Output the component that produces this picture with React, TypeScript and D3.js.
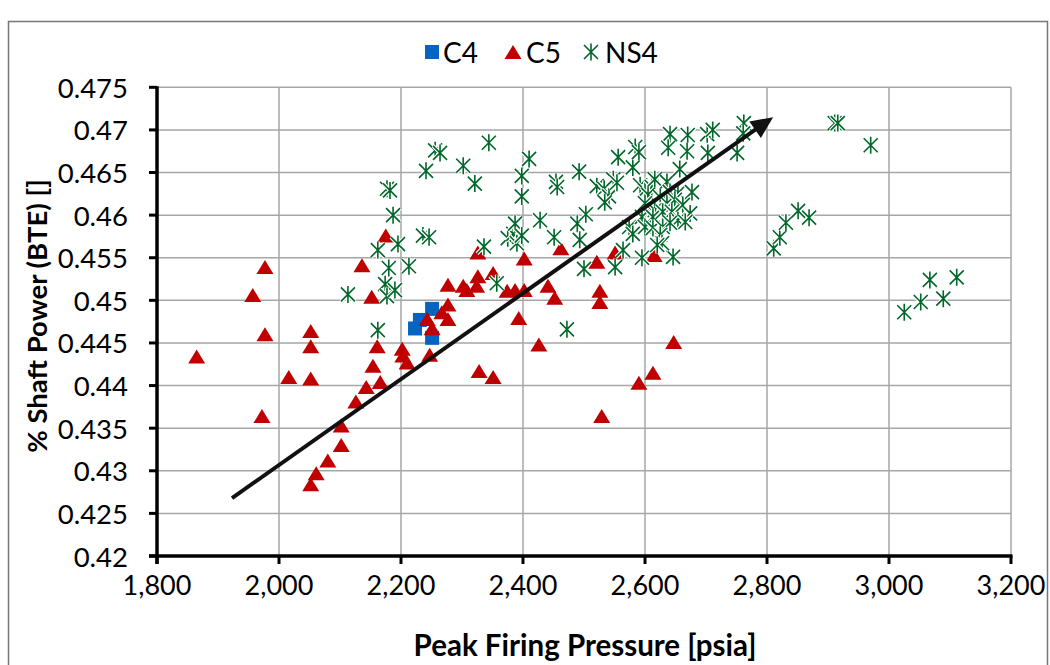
import React from 'react';
import * as d3 from 'd3';

// ---- data ----
const xTicks = [1800, 2000, 2200, 2400, 2600, 2800, 3000, 3200];
const yTicks = [0.42, 0.425, 0.43, 0.435, 0.44, 0.445, 0.45, 0.455, 0.46, 0.465, 0.47, 0.475];
const seriesNames = ['C4', 'C5', 'NS4'];

const c4X = [2223, 2231, 2251, 2251];
const c4Y = [0.4467, 0.4477, 0.449, 0.4456];

const c5X = [1865, 1957, 1977, 1977, 1972, 2016, 2052, 2052, 2052, 2052, 2061, 2080, 2102, 2102, 2126, 2143, 2166, 2154, 2161, 2136,
  2152, 2202, 2203, 2210, 2175, 2247, 2243, 2251, 2267, 2277, 2277, 2277, 2302, 2308, 2324, 2326, 2326, 2351, 2374, 2387,
  2402, 2402, 2393, 2426, 2441, 2452, 2462, 2521, 2526, 2526, 2551, 2615, 2647, 2613, 2590, 2529, 2328, 2351];
const c5Y = [0.4433, 0.4505, 0.4538, 0.4459, 0.4363, 0.4409, 0.4463, 0.4445, 0.4407, 0.4283, 0.4296, 0.4311, 0.4329, 0.4352, 0.438, 0.4397, 0.4403, 0.4422, 0.4445, 0.454,
  0.4503, 0.4442, 0.4434, 0.4426, 0.4575, 0.4435, 0.4477, 0.4466, 0.4485, 0.4494, 0.4477, 0.4517, 0.4516, 0.4511, 0.4516, 0.4527, 0.4555, 0.4531, 0.451, 0.4511,
  0.4511, 0.4548, 0.4478, 0.4447, 0.4516, 0.4502, 0.456, 0.4544, 0.451, 0.4497, 0.4555, 0.4552, 0.445, 0.4414, 0.4402, 0.4363, 0.4416, 0.4409];

const ns4X = [2113, 2162, 2162, 2174, 2177, 2182, 2177, 2180, 2187, 2190, 2195, 2213, 2236, 2246, 2241, 2256, 2264, 2302, 2321, 2336,
  2344, 2357, 2375, 2384, 2387, 2390, 2398, 2398, 2398, 2410, 2428, 2451, 2454, 2456, 2472, 2489, 2492, 2493, 2500, 2503,
  2521, 2533, 2541, 2534, 2548, 2554, 2556, 2551, 2564, 2574, 2580, 2580, 2584, 2590, 2595, 2646,
  2592, 2600, 2611, 2616, 2636, 2605, 2625, 2641, 2654, 2677, 2600, 2616, 2636, 2649, 2662, 2674, 2595, 2613, 2629, 2644,
  2654, 2666, 2600, 2613, 2629, 2641, 2625, 2628, 2620, 2657,
  2641, 2670, 2702, 2711, 2762, 2761, 2638, 2669, 2703, 2751,
  2811, 2821, 2831, 2851, 2869, 2911, 2916, 2970, 3025, 3052, 3067, 3089, 3111];
const ns4Y = [0.4507, 0.4465, 0.4559, 0.4519, 0.4631, 0.4629, 0.4505, 0.4538, 0.46, 0.4512, 0.4566, 0.454, 0.4576, 0.4574, 0.4652, 0.4676, 0.4673, 0.4658, 0.4637, 0.4563,
  0.4685, 0.452, 0.4573, 0.4578, 0.459, 0.4567, 0.4576, 0.4646, 0.4622, 0.4666, 0.4594, 0.4574, 0.4639, 0.4633, 0.4466, 0.459, 0.4651, 0.4571, 0.4537, 0.4601,
  0.4634, 0.4631, 0.4622, 0.4615, 0.4642, 0.4638, 0.4668, 0.4539, 0.4559, 0.4586, 0.4578, 0.4656, 0.468, 0.4674, 0.455, 0.4551,
  0.4635, 0.4629, 0.4633, 0.4642, 0.4639, 0.4624, 0.4621, 0.4627, 0.4626, 0.4627, 0.4614, 0.4606, 0.4614, 0.4618, 0.4612, 0.4602, 0.4598, 0.4598, 0.4604, 0.4604,
  0.4594, 0.4592, 0.4586, 0.4585, 0.4586, 0.4591, 0.4577, 0.4567, 0.4565, 0.4654,
  0.4695, 0.4694, 0.4695, 0.47, 0.4708, 0.4696, 0.4679, 0.4675, 0.4673, 0.4673,
  0.4561, 0.4574, 0.4591, 0.4605, 0.4597, 0.4708, 0.4708, 0.4682, 0.4486, 0.4498, 0.4524, 0.4502, 0.4527];

const arrowX = [1923, 2810];
const arrowY = [0.4268, 0.4715];

// ---- styles ----
const FONT = "Lato, 'Open Sans', sans-serif";
const BLUE = '#0563c1';
const RED = '#c00000';
const GREEN = '#00662a';

const W = 1050;
const H = 665;
const M = { left: 157, right: 1011, top: 87.3, bottom: 556 };

const starPath = 'M-7,-7L7,7M-7,7L7,-7M0,-8.5L0,8.5';
const triPath = 'M0,-8L8.5,6L-8.5,6Z';

function Square({ x, y }: { x: number; y: number }) {
  return <rect x={x - 7} y={y - 7} width={14} height={14} fill={BLUE} />;
}
function Tri({ x, y }: { x: number; y: number }) {
  return <path d={triPath} transform={`translate(${x},${y})`} fill={RED} />;
}
function Star({ x, y }: { x: number; y: number }) {
  return (
    <g transform={`translate(${x},${y})`}>
      <path d={starPath} stroke="#fff" strokeWidth={4} fill="none" />
      <path d={starPath} stroke={GREEN} strokeWidth={1.6} fill="none" />
    </g>
  );
}

export default function App() {
  const xs = d3.scaleLinear().domain([1800, 3200]).range([M.left, M.right]);
  const ys = d3.scaleLinear().domain([0.42, 0.475]).range([M.bottom, M.top]);
  const fmtX = d3.format(',');
  const fmtY = (v: number) => String(+v.toFixed(3));

  const ax0 = xs(arrowX[0]), ay0 = ys(arrowY[0]);
  const ax1 = xs(arrowX[1]), ay1 = ys(arrowY[1]);
  const ang = Math.atan2(ay1 - ay0, ax1 - ax0);
  const headLen = 22, headW = 10;
  const bx = ax1 - headLen * Math.cos(ang), by = ay1 - headLen * Math.sin(ang);
  const px = -Math.sin(ang), py = Math.cos(ang);
  const head = `M${ax1},${ay1}L${bx + headW * px},${by + headW * py}L${bx - headW * px},${by - headW * py}Z`;

  const legendItems = [
    { name: seriesNames[0], mx: 432, tx: 443 },
    { name: seriesNames[1], mx: 513, tx: 526 },
    { name: seriesNames[2], mx: 591, tx: 605 },
  ];

  return (
    <svg width={W} height={H} style={{ position: 'absolute', left: 0, top: 0, background: '#fff' }} fontFamily={FONT}>
      <rect x={0} y={0} width={W} height={H} fill="#fff" />
      <rect x={8.5} y={21.5} width={1039} height={700} fill="none" stroke="#767676" strokeWidth={1.5} />

      {/* grid */}
      {yTicks.map((t) => (
        <line key={'gy' + t} x1={M.left} x2={M.right} y1={ys(t)} y2={ys(t)} stroke="#a6a6a6" strokeWidth={1.5} />
      ))}
      {xTicks.map((t) => (
        <line key={'gx' + t} x1={xs(t)} x2={xs(t)} y1={M.top} y2={M.bottom} stroke="#a6a6a6" strokeWidth={1.5} />
      ))}

      {/* axes */}
      <line x1={M.left} x2={M.left} y1={M.top - 1} y2={M.bottom + 8} stroke="#000" strokeWidth={3.5} />
      <line x1={M.left - 8} x2={M.right + 1.5} y1={M.bottom} y2={M.bottom} stroke="#000" strokeWidth={3.5} />
      {yTicks.map((t) => (
        <g key={'ty' + t}>
          <line x1={M.left - 8} x2={M.left} y1={ys(t)} y2={ys(t)} stroke="#000" strokeWidth={3} />
          <text x={128} y={ys(t)} textAnchor="end" dominantBaseline="central" fontSize={27.5} fill="#000">
            {fmtY(t)}
          </text>
        </g>
      ))}
      {xTicks.map((t) => (
        <g key={'tx' + t}>
          <line x1={xs(t)} x2={xs(t)} y1={M.bottom} y2={M.bottom + 8} stroke="#000" strokeWidth={3} />
          <text x={xs(t)} y={584} textAnchor="middle" dominantBaseline="central" fontSize={27} fill="#000">
            {fmtX(t)}
          </text>
        </g>
      ))}

      {/* axis titles */}
      <text x={585} y={644} textAnchor="middle" dominantBaseline="central" fontSize={29.5} fontWeight="bold" fill="#000">
        Peak Firing Pressure [psia]
      </text>
      <text transform={`translate(36,316) rotate(-90)`} textAnchor="middle" dominantBaseline="central" fontSize={27.5} fontWeight="bold" fill="#000">
        % Shaft Power (BTE) []
      </text>

      {/* series */}
      <g>{c4X.map((v, i) => <Square key={'a' + i} x={xs(v)} y={ys(c4Y[i])} />)}</g>
      <g>{c5X.map((v, i) => <Tri key={'b' + i} x={xs(v)} y={ys(c5Y[i])} />)}</g>
      <g>{ns4X.map((v, i) => <Star key={'c' + i} x={xs(v)} y={ys(ns4Y[i])} />)}</g>

      {/* arrow */}
      <line x1={ax0} y1={ay0} x2={bx + 2 * Math.cos(ang)} y2={by + 2 * Math.sin(ang)} stroke="#111" strokeWidth={4} />
      <path d={head} fill="#111" />

      {/* legend */}
      <Square x={legendItems[0].mx} y={52} />
      <Tri x={legendItems[1].mx} y={53} />
      <Star x={legendItems[2].mx} y={52} />
      {legendItems.map((it) => (
        <text key={it.name} x={it.tx} y={52} dominantBaseline="central" fontSize={28} fill="#000">
          {it.name}
        </text>
      ))}
    </svg>
  );
}
